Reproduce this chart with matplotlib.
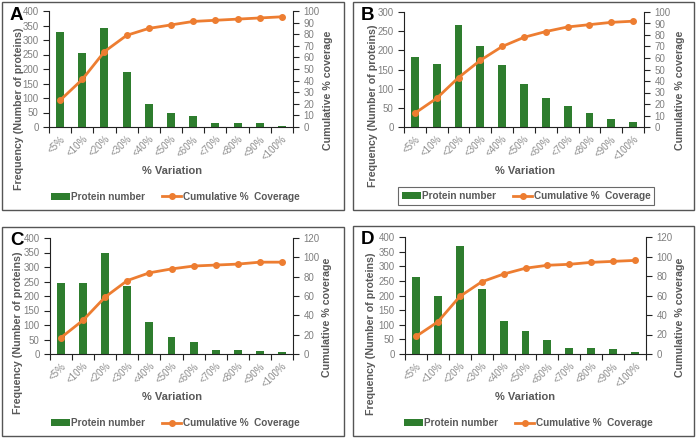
import matplotlib
matplotlib.use("Agg")
import matplotlib.pyplot as plt
from matplotlib.patches import Rectangle
import numpy as np

plt.rcParams['font.family'] = ['Liberation Sans', 'DejaVu Sans']

categories = ["<5%", "<10%", "<20%", "<30%", "<40%", "<50%", "<60%", "<70%", "<80%", "<90%", "<100%"]

counts_A = [327, 255, 343, 190, 80, 48, 38, 15, 13, 13, 5]
cum_A = [23, 41, 65, 79, 85, 88, 91, 92, 93, 94, 95]

counts_B = [182, 165, 265, 211, 161, 111, 75, 54, 37, 22, 14]
cum_B = [12, 25, 43, 58, 70, 78, 83, 87, 89, 91, 92]

counts_C = [246, 246, 349, 236, 111, 60, 42, 15, 15, 12, 7]
cum_C = [17, 35, 59, 76, 84, 88, 91, 92, 93, 95, 95]

counts_D = [263, 198, 369, 222, 113, 79, 49, 22, 20, 17, 7]
cum_D = [18, 33, 59, 74, 82, 88, 91, 92, 94, 95, 96]

W, H = 696, 438
fig = plt.figure(figsize=(W / 100, H / 100), dpi=100)

GREEN = "#2e7d2e"
ORANGE = "#ed7d31"
TICKC = "#7f7f7f"
LABC = "#595959"

def px(x0, y0, x1, y1):
    return [x0 / W, 1 - y1 / H, (x1 - x0) / W, (y1 - y0) / H]

def fx(x):
    return x / W

def fy(y):
    return 1 - y / H

panels = [
    dict(letter="A", counts=counts_A, cum=cum_A, ymax=400, ystep=50, y2max=100, y2step=10,
         box=(2, 2, 344, 210), ax=(49, 11, 293, 127), legframe=False, leg=(175, 197),
         ylab=(19, 109), y2lab=(328, 90), xlab=(172, 171)),
    dict(letter="B", counts=counts_B, cum=cum_B, ymax=300, ystep=50, y2max=100, y2step=10,
         box=(353, 2, 694, 210), ax=(404, 12, 644, 127), legframe=True, leg=(526, 196),
         ylab=(373, 106), y2lab=(680, 90), xlab=(525, 171)),
    dict(letter="C", counts=counts_C, cum=cum_C, ymax=400, ystep=50, y2max=120, y2step=20,
         box=(2, 227, 344, 436), ax=(50, 238, 293, 354), legframe=False, leg=(175, 423),
         ylab=(18, 333), y2lab=(327, 317), xlab=(172, 397)),
    dict(letter="D", counts=counts_D, cum=cum_D, ymax=400, ystep=50, y2max=120, y2step=20,
         box=(353, 226, 694, 436), ax=(405, 237, 646, 354), legframe=False, leg=(528, 423),
         ylab=(371, 334), y2lab=(680, 317), xlab=(525, 397)),
]

for p in panels:
    bx0, by0, bx1, by1 = p["box"]
    fig.patches.append(Rectangle((bx0 / W, 1 - by1 / H), (bx1 - bx0) / W, (by1 - by0) / H,
                                 transform=fig.transFigure, fill=False, edgecolor="#555555", lw=1.0))
    ax = fig.add_axes(px(*p["ax"]))
    x = np.arange(len(categories))
    bars = ax.bar(x, p["counts"], width=0.36, color=GREEN, label="Protein number", zorder=2)
    ax.set_xlim(-0.5, len(categories) - 0.5)
    ax.set_ylim(0, p["ymax"])
    ax.set_yticks(np.arange(0, p["ymax"] + 1, p["ystep"]))
    ax.set_xticks(x)
    ax.set_xticklabels(categories, rotation=45, ha="right", rotation_mode="anchor")
    ax.set_xticks(np.arange(-0.5, len(categories) + 0.5, 1), minor=True)
    ax.tick_params(axis="x", which="major", length=0, labelsize=7, labelcolor="#8c8c8c", pad=5)
    ax.tick_params(axis="x", which="minor", length=4, color="#222222", width=0.8)
    ax.tick_params(axis="y", length=4, labelsize=7, labelcolor=TICKC, color="#222222", width=0.8)
    for s in ["top", "right"]:
        ax.spines[s].set_visible(False)
    for s in ["left", "bottom"]:
        ax.spines[s].set_color("#222222")
        ax.spines[s].set_linewidth(0.8)

    ax2 = ax.twinx()
    line, = ax2.plot(x, p["cum"], color=ORANGE, lw=2, marker="o", markersize=4,
                     label="Cumulative %  Coverage", zorder=3)
    ax2.set_ylim(0, p["y2max"])
    ax2.set_yticks(np.arange(0, p["y2max"] + 1, p["y2step"]))
    ax2.tick_params(axis="y", length=4, labelsize=7, labelcolor=TICKC, color="#222222", width=0.8)
    for s in ["top", "left", "bottom"]:
        ax2.spines[s].set_visible(False)
    ax2.spines["right"].set_color("#222222")
    ax2.spines["right"].set_linewidth(0.8)

    lx, ly = p["ylab"]
    fig.text(fx(lx), fy(ly), "Frequency (Number of proteins)", rotation=90, ha="center", va="center",
             fontsize=7.7, fontweight="bold", color=LABC)
    rx, ry = p["y2lab"]
    fig.text(fx(rx), fy(ry), "Cumulative % coverage", rotation=90, ha="center", va="center",
             fontsize=7.7, fontweight="bold", color=LABC)
    xx, xy = p["xlab"]
    fig.text(fx(xx), fy(xy), "% Variation", ha="center", va="center",
             fontsize=8, fontweight="bold", color=LABC)

    fig.text((bx0 + 8) / W, 1 - (by0 + 5) / H, p["letter"], fontsize=13.5, fontweight="bold",
             va="top", ha="left", color="black")

    cx, cy = p["leg"]
    leg = fig.legend([bars, line], ["Protein number", "Cumulative %  Coverage"], ncol=2,
                     loc="center", bbox_to_anchor=(fx(cx), fy(cy)),
                     frameon=p["legframe"], fontsize=7.2, handlelength=1.9, columnspacing=1.7,
                     handletextpad=0.15, borderpad=0.4, fancybox=False)
    for t in leg.get_texts():
        t.set_color(LABC)
        t.set_fontweight("bold")
    if p["legframe"]:
        leg.get_frame().set_edgecolor("#444444")
        leg.get_frame().set_linewidth(0.8)

fig.savefig("out.png", dpi=100)
